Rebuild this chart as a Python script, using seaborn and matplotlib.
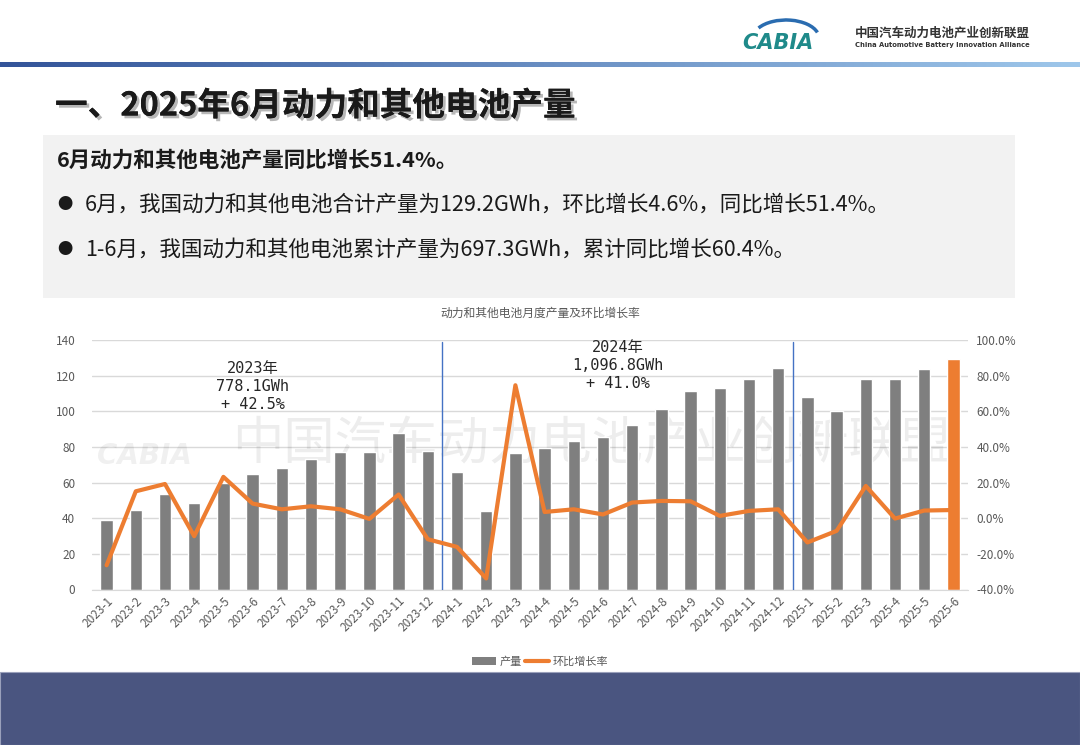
import numpy as np
import pandas as pd
import matplotlib
matplotlib.use("Agg")
import matplotlib.pyplot as plt
import matplotlib.patheffects as pe
from matplotlib.patches import Rectangle, Arc
from matplotlib.lines import Line2D
import seaborn as sns

# ---------------- data ----------------
months = ["2023-1", "2023-2", "2023-3", "2023-4", "2023-5", "2023-6", "2023-7", "2023-8",
          "2023-9", "2023-10", "2023-11", "2023-12",
          "2024-1", "2024-2", "2024-3", "2024-4", "2024-5", "2024-6", "2024-7", "2024-8",
          "2024-9", "2024-10", "2024-11", "2024-12",
          "2025-1", "2025-2", "2025-3", "2025-4", "2025-5", "2025-6"]
output_gwh = [39.0, 44.8, 53.6, 48.4, 60.0, 64.7, 68.0, 73.1, 77.0, 77.0, 87.7, 77.6,
              65.7, 44.1, 76.7, 79.2, 83.2, 85.3, 92.5, 101.5, 111.6, 113.1, 117.9, 124.5,
              108.0, 100.2, 117.9, 117.9, 123.5, 129.2]
mom_rate = [-26.4, 15.1, 19.2, -10.1, 23.2, 8.2, 5.0, 6.7, 5.0, -0.4, 13.3, -11.8,
            -16.1, -33.8, 74.6, 3.5, 5.0, 2.1, 8.8, 9.7, 9.5, 1.3, 4.1, 5.0,
            -13.6, -7.1, 18.1, -0.2, 4.3, 4.6]
year_notes = ["2023年\n778.1GWh\n+ 42.5%", "2024年\n1,096.8GWh\n+ 41.0%"]
year_note_pos = [(5.0, 128), (17.5, 140)]
year_breaks = [11.5, 23.5]
left_ticks = [0, 20, 40, 60, 80, 100, 120, 140]
right_ticks = [-40, -20, 0, 20, 40, 60, 80, 100]

page_title = "一、2025年6月动力和其他电池产量"
box_head = "6月动力和其他电池产量同比增长51.4%。"
bullets = ["6月，我国动力和其他电池合计产量为129.2GWh，环比增长4.6%，同比增长51.4%。",
           "1-6月，我国动力和其他电池累计产量为697.3GWh，累计同比增长60.4%。"]
chart_title = "动力和其他电池月度产量及环比增长率"
legend_labels = ["产量", "环比增长率"]

GRAY = "#7f7f7f"
ORANGE = "#ED7D31"
TXT = "#595959"

# ---------------- style ----------------
sns.set_style("white")
plt.rcParams["font.family"] = ["Noto Sans CJK SC", "DejaVu Sans"]
plt.rcParams["axes.unicode_minus"] = False

W, H = 1080, 745
fig = plt.figure(figsize=(W / 100, H / 100), dpi=100)
fig.patch.set_facecolor("white")

def fx(px):
    return px / W

def fy(py):
    return 1 - py / H

# header gradient line
gax = fig.add_axes([0, fy(67), 1, 5 / H])
grad = np.linspace(0, 1, 512)
c0 = np.array([0.20, 0.33, 0.60])
c1 = np.array([0.62, 0.78, 0.92])
img = (c0[None, :] * (1 - grad[:, None]) + c1[None, :] * grad[:, None])[None, :, :]
gax.imshow(img, aspect="auto", extent=[0, 1, 0, 1])
gax.axis("off")

# logo
lax = fig.add_axes([fx(738), fy(52), fx(100), 38 / H])
lax.set_xlim(0, 100)
lax.set_ylim(0, 38)
lax.axis("off")
lax.add_patch(Arc((48, 14), 66, 36, theta1=10, theta2=160, color="#2a6cb0", lw=2.5))
lax.text(4, 3, "CABIA", fontsize=15, fontweight="bold", fontstyle="italic",
         color="#1f8a8a", family=["DejaVu Sans"])
fig.text(fx(855), fy(33), "中国汽车动力电池产业创新联盟", fontsize=9, fontweight="bold",
         color="#333333", va="center")
fig.text(fx(855), fy(45), "China Automotive Battery Innovation Alliance", fontsize=4.9,
         fontweight="bold", color="#333333", va="center", family=["DejaVu Sans"])

# page title
fig.text(fx(55), fy(106), page_title, fontsize=23.5, fontweight="bold", color="#1a1a1a",
         va="center",
         path_effects=[pe.withSimplePatchShadow(offset=(2, -2), shadow_rgbFace="#888888",
                                                alpha=0.6), pe.Normal()])

# gray box
fig.patches.append(Rectangle((fx(43), fy(298)), fx(1015 - 43), (298 - 135) / H,
                             transform=fig.transFigure, facecolor="#f2f2f2",
                             edgecolor="none", zorder=0))
fig.text(fx(57), fy(160), box_head, fontsize=15.5, fontweight="bold", color="#1a1a1a",
         va="center")
for yy, b in zip([205, 250], bullets):
    fig.text(fx(57), fy(yy), "●", fontsize=11, color="#1a1a1a", va="center")
    fig.text(fx(85), fy(yy), b, fontsize=15.5, color="#1a1a1a", va="center")

# bottom band
fig.patches.append(Rectangle((0, 0), 1, (745 - 672) / H, transform=fig.transFigure,
                             facecolor="#4a5580", edgecolor="#9aa0bb", lw=0.8, zorder=0))

# chart title
fig.text(0.5, fy(313), chart_title, fontsize=8.5, color=TXT, ha="center", va="center")

# ---------------- chart ----------------
ax = fig.add_axes([fx(92), fy(589.5), fx(968 - 92), (589.5 - 340) / H])
df = pd.DataFrame({"month": months, "output": output_gwh})
colors = [GRAY] * (len(months) - 1) + [ORANGE]
sns.barplot(data=df, x="month", y="output", hue="month", palette=colors, legend=False,
            width=0.42, saturation=1, ax=ax, zorder=2)
ax.set_xlim(-0.5, len(months) - 0.5)
ax.set_ylim(0, 140)
ax.set_yticks(left_ticks)
ax.yaxis.grid(True, color="#d9d9d9", lw=1)
ax.set_axisbelow(True)
for s in ["top", "right", "left"]:
    ax.spines[s].set_visible(False)
ax.spines["bottom"].set_color("#d9d9d9")
ax.tick_params(axis="both", length=0, colors=TXT, labelsize=8.5)
ax.tick_params(axis="y", pad=12)
ax.set_xlabel("")
ax.set_ylabel("")
plt.setp(ax.get_xticklabels(), rotation=45, ha="right", rotation_mode="anchor")

for xb in year_breaks:
    ax.plot([xb, xb], [0, 138.8], color="#4472C4", lw=1.0, zorder=3)

for (xn, yn), note in zip(year_note_pos, year_notes):
    ax.text(xn, yn, note, ha="center", va="top", fontsize=11, color="#262626",
            linespacing=1.25, zorder=4, family=["DejaVu Sans Mono", "Noto Sans CJK SC"])

# watermark
ax.text(16.6, 81, "中国汽车动力电池产业创新联盟", ha="center", va="center", fontsize=37,
        color="#000000", alpha=0.07, zorder=1)
ax.text(1.3, 75, "CABIA", ha="center", va="center", fontsize=20, fontstyle="italic",
        fontweight="bold", color="#000000", alpha=0.06, zorder=1,
        family=["DejaVu Sans"])

ax2 = ax.twinx()
sns.lineplot(x=np.arange(len(months)), y=mom_rate, ax=ax2, color=ORANGE, lw=3,
             zorder=5)
ax2.set_ylim(-40, 100)
ax2.set_yticks(right_ticks)
ax2.set_yticklabels([f"{v:.1f}%" for v in right_ticks])
ax2.tick_params(axis="y", length=0, colors=TXT, labelsize=8.5, pad=6)
for s in ax2.spines.values():
    s.set_visible(False)
ax2.set_ylabel("")
ax2.grid(False)

# legend
handles = [Rectangle((0, 0), 1, 1, facecolor=GRAY, edgecolor="none"),
           Line2D([0], [0], color=ORANGE, lw=3)]
fig.legend(handles, legend_labels, loc="center", bbox_to_anchor=(0.5, fy(662)), ncol=2,
           frameon=False, fontsize=8, labelcolor=TXT, handlelength=2.2,
           handletextpad=0.3, columnspacing=0.3)

fig.savefig("out.png", dpi=100)
